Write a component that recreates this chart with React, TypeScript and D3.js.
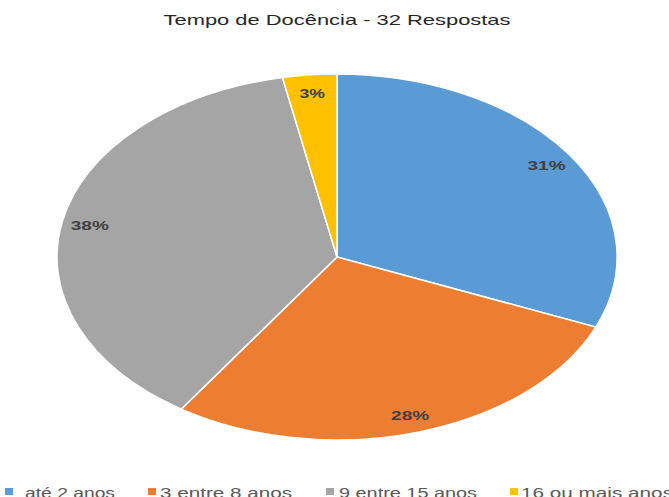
import React from "react";
import * as d3 from "d3";

const categories = ["até 2 anos", "3 entre 8 anos", "9 entre 15 anos", "16 ou mais anos"];
const values = [10, 9, 12, 1];
const percentLabels = ["31%", "28%", "38%", "3%"];
const colors = ["#5B9BD5", "#ED7D31", "#A5A5A5", "#FFC000"];
const title = "Tempo de Docência - 32 Respostas";

// layout constants
const W = 669;
const H = 497;
const cx = 337;
const cy = 257;
const rx = 280;
const ry = 183;
const legendX = [5, 148, 326, 510];
const legendTextX = [25, 160, 339, 521];
const legendTextW = [90, 132, 138, 152];
const FONT = "'Liberation Sans', Arial, sans-serif";

export default function App() {
  const pie = d3.pie<number>().sort(null).value((d) => d)(values);
  const arc = d3.arc<d3.PieArcDatum<number>>().innerRadius(0).outerRadius(1);
  const labelArc = d3.arc<d3.PieArcDatum<number>>().innerRadius(0.9).outerRadius(0.9);

  return (
    <svg
      width={W}
      height={H}
      style={{ position: "absolute", left: 0, top: 0, background: "#fff" }}
    >
      <rect x={0} y={0} width={W} height={H} fill="#fff" />
      <text
        x={cx}
        y={24.5}
        textAnchor="middle"
        fontFamily={FONT}
        fontSize={15}
        fill="#262626"
        textLength={347}
        lengthAdjust="spacingAndGlyphs"
      >
        {title}
      </text>
      <g transform={`translate(${cx},${cy}) scale(${rx},${ry})`}>
        {pie.map((p, i) => (
          <path
            key={i}
            d={arc(p) || ""}
            fill={colors[i]}
            stroke="#fff"
            strokeWidth={1.5}
            vectorEffect="non-scaling-stroke"
          />
        ))}
      </g>
      {pie.map((p, i) => {
        const c = labelArc.centroid(p);
        const txt = percentLabels[i];
        return (
          <text
            key={i}
            x={cx + c[0] * rx}
            y={cy + c[1] * ry + 5}
            textAnchor="middle"
            fontFamily={FONT}
            fontWeight="bold"
            fontSize={13}
            fill="#404040"
            textLength={txt.length * 12.7}
            lengthAdjust="spacingAndGlyphs"
          >
            {txt}
          </text>
        );
      })}
      {categories.map((c, i) => (
        <g key={c}>
          <rect x={legendX[i]} y={488} width={8} height={7} fill={colors[i]} />
          <text
            x={legendTextX[i]}
            y={498}
            fontFamily={FONT}
            fontSize={15}
            fill="#595959"
            textLength={legendTextW[i]}
            lengthAdjust="spacingAndGlyphs"
          >
            {c}
          </text>
        </g>
      ))}
    </svg>
  );
}
